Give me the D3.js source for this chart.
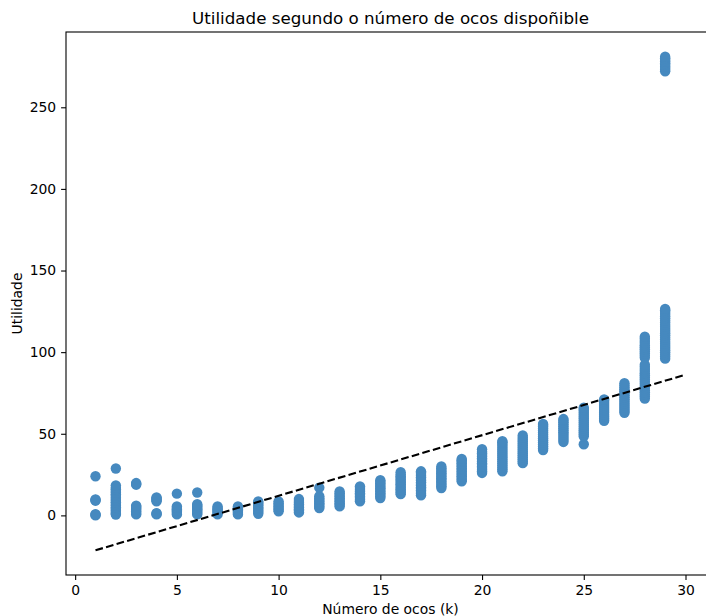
<!DOCTYPE html>
<html>
<head>
<meta charset="utf-8">
<script src="https://cdn.jsdelivr.net/npm/d3@7"></script>
<style>
  html, body { margin: 0; padding: 0; background: #fff; }
  svg { display: block; font-family: "DejaVu Sans", sans-serif; }
</style>
</head>
<body>
<div id="chart"></div>
<script>
// ---- data ----
const title = "Utilidade segundo o número de ocos dispoñible";
const xLabel = "Número de ocos (k)";
const yLabel = "Utilidade";
const ks = [1,2,3,4,5,6,7,8,9,10,11,12,13,14,15,16,17,18,19,20,21,22,23,24,25,26,27,28,29];
const utilities = [
  [0, 0.4, 0.8, 9, 9.4, 9.8, 24],
  [0.5, 1.2, 2, 3, 4, 5, 6, 7, 8, 9, 10, 11, 12, 13, 14, 15, 16, 17, 18.4, 28.7],
  [0.6, 1.5, 2.5, 3.5, 4.5, 5.3, 6, 18.8, 19.3, 19.8],
  [0.6, 1, 1.4, 8.6, 9.3, 10, 10.6, 11],
  [0.6, 1.4, 2.2, 3, 3.8, 4.6, 5.5, 13.3],
  [0.6, 1.4, 2.2, 3, 3.8, 4.6, 5.4, 6.1, 6.8, 14],
  [0.6, 1.4, 2.2, 3, 3.8, 4.6, 5.5],
  [0.6, 1.4, 2.2, 3, 3.8, 4.6, 5.5],
  [1, 2, 3, 4, 5, 6, 7, 7.8, 8.6],
  [2.5, 3.5, 4.5, 5.5, 6.5, 7.5, 8.6],
  [1.8, 2.8, 3.8, 4.8, 5.8, 6.8, 7.8, 8.8, 10],
  [4.5, 5.5, 6.5, 7.5, 8.5, 9.5, 10.5, 11.7, 17],
  [5.5, 6.5, 7.5, 8.5, 9.5, 10.5, 11.5, 12.5, 13.6, 14.7],
  [8.6, 9.6, 10.6, 11.6, 12.6, 13.6, 14.6, 15.6, 16.7, 17.8],
  [10.6, 11.6, 12.6, 13.6, 14.6, 15.6, 16.6, 17.6, 18.6, 19.6, 20.6, 21.5],
  [13, 14, 15, 16, 17, 18, 19, 20, 21, 22, 23, 24, 25, 26.5],
  [12.3, 13.3, 14.3, 15.3, 16.3, 17.3, 18.3, 19.3, 20.3, 21.3, 22.3, 23.3, 24.3, 25.3, 26.2, 27],
  [16.8, 17.8, 18.8, 19.8, 20.8, 21.8, 22.8, 23.8, 24.8, 25.8, 26.8, 27.8, 28.8, 30],
  [20.9, 21.9, 22.9, 23.9, 24.9, 25.9, 26.9, 27.9, 28.9, 29.9, 30.9, 31.9, 32.9, 33.8, 34.6],
  [26, 27, 28, 29, 30, 31, 32, 33, 34, 35, 36, 37, 38, 39, 40.5],
  [27, 28.2, 29.4, 30.6, 31.8, 33, 34.2, 35.4, 36.6, 37.8, 39, 40.2, 41.4, 42.6, 43.8, 44.8, 45.5],
  [32, 33.2, 34.4, 35.6, 36.8, 38, 39.2, 40.4, 41.6, 42.8, 44, 45.2, 46.4, 47.6, 49],
  [40, 41.2, 42.4, 43.6, 44.8, 46, 47.2, 48.4, 49.6, 50.8, 52, 53.2, 54.4, 55.4, 56],
  [45, 46.2, 47.4, 48.6, 49.8, 51, 52.2, 53.4, 54.6, 55.8, 57, 58.2, 59],
  [43.6, 48.5, 49.7, 50.9, 52.1, 53.3, 54.5, 55.7, 56.9, 58.1, 59.3, 60.5, 61.7, 62.9, 64.1, 65.2, 66],
  [58, 59.2, 60.4, 61.6, 62.8, 64, 65.2, 66.4, 67.6, 68.8, 70, 71],
  [62.8, 64, 65.2, 66.4, 67.6, 68.8, 70, 71.2, 72.4, 73.6, 74.8, 76, 77.2, 78.4, 79.6, 81],
  [71.5, 72.8, 74.1, 75.4, 76.7, 78, 79.3, 80.6, 81.9, 83.2, 84.5, 85.8, 87.1, 88.4, 89.7, 91, 92.3, 96.5, 97.8, 99.1, 100.4, 101.7, 103, 104.3, 105.6, 106.9, 108.2, 109.5],
  [96, 97.3, 98.6, 99.9, 101.2, 102.5, 103.8, 105.1, 106.4, 107.7, 109, 110.3, 111.6, 112.9, 114.2, 115.5, 116.8, 118.1, 119.4, 120.7, 122, 123.3, 124.6, 125.6, 126.5,
   272, 273, 274, 275, 276, 277, 278, 279, 280, 281]
];
const trendX = [1, 30];
const trendY = [-21.4, 86.2];
const xTicks = [0, 5, 10, 15, 20, 25, 30];
const yTicks = [0, 50, 100, 150, 200, 250];

// ---- layout ----
const W = 706, H = 616;
const plot = { left: 66, right: 715, top: 32, bottom: 575 };
const pointColor = "#4689bf";

const points = [];
ks.forEach((k, i) => utilities[i].forEach(u => points.push({ k, u })));

const allX = ks.concat(trendX);
const allY = points.map(p => p.u).concat(trendY);
const [x0, x1] = d3.extent(allX);
const [y0, y1] = d3.extent(allY);
const mx = (x1 - x0) * 0.05, my = (y1 - y0) * 0.05;

const x = d3.scaleLinear().domain([x0 - mx, x1 + mx]).range([plot.left, plot.right]);
const y = d3.scaleLinear().domain([y0 - my, y1 + my]).range([plot.bottom, plot.top]);

const svg = d3.select("#chart").append("svg").attr("width", W).attr("height", H);

// points
svg.append("g").selectAll("circle").data(points).join("circle")
  .attr("cx", d => x(d.k)).attr("cy", d => y(d.u)).attr("r", 5.2)
  .attr("fill", pointColor);

// trend line
svg.append("path")
  .datum(trendX.map((v, i) => [v, trendY[i]]))
  .attr("d", d3.line().x(d => x(d[0])).y(d => y(d[1])))
  .attr("fill", "none").attr("stroke", "#000").attr("stroke-width", 2.1)
  .attr("stroke-dasharray", "7.7,3.3");

// frame (spines)
svg.append("rect")
  .attr("x", plot.left).attr("y", plot.top)
  .attr("width", plot.right - plot.left).attr("height", plot.bottom - plot.top)
  .attr("fill", "none").attr("stroke", "#000").attr("stroke-width", 1.1);

// axes
const xAxis = svg.append("g").attr("transform", `translate(0,${plot.bottom})`)
  .call(d3.axisBottom(x).tickValues(xTicks).tickSize(4.9).tickPadding(4.9).tickFormat(d3.format("d")));
const yAxis = svg.append("g").attr("transform", `translate(${plot.left},0)`)
  .call(d3.axisLeft(y).tickValues(yTicks).tickSize(4.9).tickPadding(4.9).tickFormat(d3.format("d")));
[xAxis, yAxis].forEach(a => {
  a.select(".domain").remove();
  a.selectAll(".tick line").attr("stroke", "#000").attr("stroke-width", 1.1);
  a.selectAll(".tick text").attr("fill", "#000")
    .style("font-family", "'DejaVu Sans', sans-serif").style("font-size", "13.9px");
});

// title and labels
svg.append("text").attr("x", (plot.left + plot.right) / 2).attr("y", 24)
  .attr("text-anchor", "middle").style("font-size", "16.7px").attr("fill", "#000")
  .text(title);
svg.append("text").attr("x", (plot.left + plot.right) / 2).attr("y", 614)
  .attr("text-anchor", "middle").style("font-size", "13.9px").attr("fill", "#000")
  .text(xLabel);
svg.append("text")
  .attr("transform", `translate(22,${(plot.top + plot.bottom) / 2}) rotate(-90)`)
  .attr("text-anchor", "middle").style("font-size", "13.9px").attr("fill", "#000")
  .text(yLabel);
</script>
</body>
</html>
